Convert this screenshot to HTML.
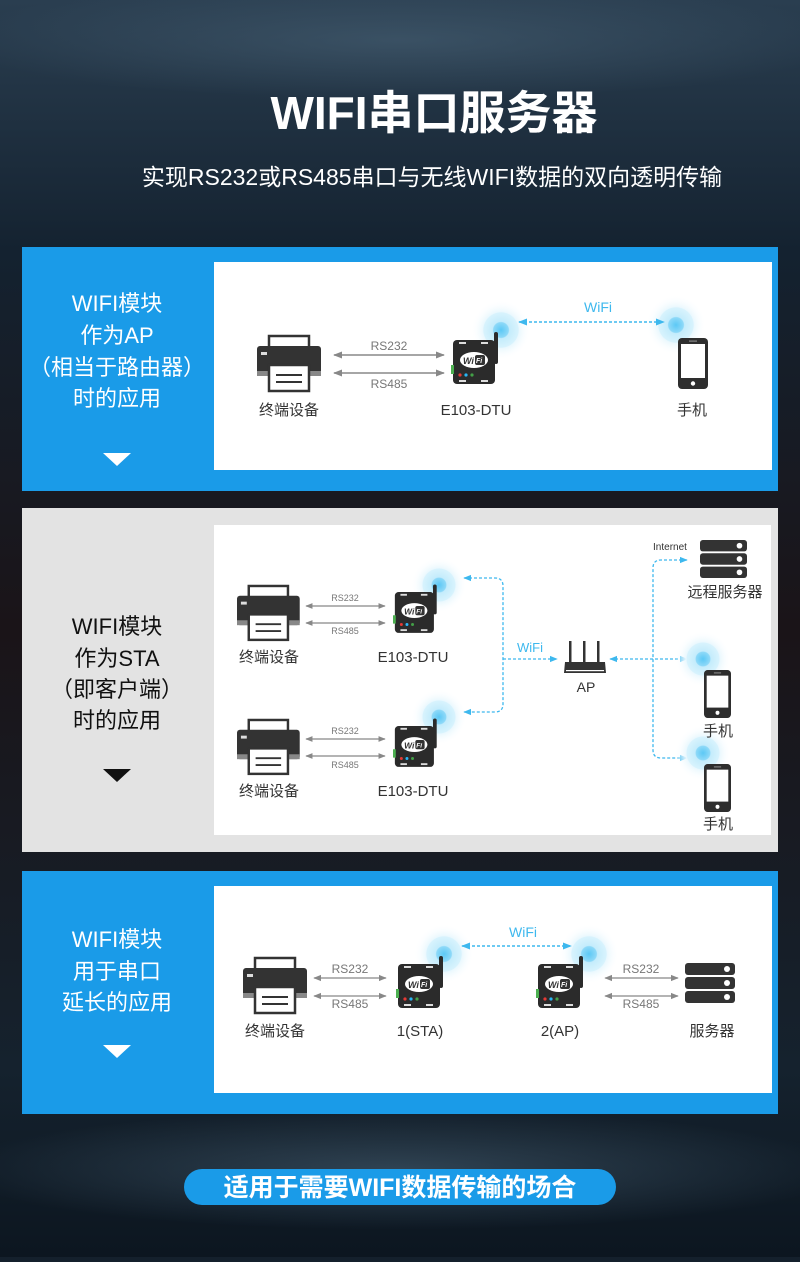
<!DOCTYPE html>
<html><head><meta charset="utf-8"><style>
html,body{margin:0;padding:0;}
body{width:800px;height:1257px;overflow:hidden;background:#14202c;font-family:"Liberation Sans","Noto Sans CJK SC",sans-serif;}
</style></head><body>
<svg width="800" height="1257" viewBox="0 0 800 1257" xmlns="http://www.w3.org/2000/svg" font-family="Liberation Sans, Noto Sans CJK SC, sans-serif">
<defs>
<linearGradient id="bg" x1="0" y1="0" x2="0" y2="1">
<stop offset="0" stop-color="#2a3e50"/><stop offset="0.2" stop-color="#142230"/><stop offset="0.5" stop-color="#1a1418"/><stop offset="0.85" stop-color="#15222e"/><stop offset="1" stop-color="#0c1620"/>
</linearGradient>
<radialGradient id="haze"><stop offset="0" stop-color="#4a6478" stop-opacity="0.55"/><stop offset="1" stop-color="#4a6478" stop-opacity="0"/></radialGradient>
<radialGradient id="glow"><stop offset="0" stop-color="#5cc8f5"/><stop offset="0.25" stop-color="#8ed9f8"/><stop offset="0.28" stop-color="#c4ecfc"/><stop offset="0.58" stop-color="#d8f3fd"/><stop offset="0.6" stop-color="#eaf8fe"/><stop offset="1" stop-color="#ffffff" stop-opacity="0"/></radialGradient>
<marker id="ag" viewBox="0 0 10 10" refX="9" refY="5" markerWidth="6" markerHeight="6" orient="auto-start-reverse"><path d="M0,1 L10,5 L0,9z" fill="#888"/></marker>
<marker id="ab" viewBox="0 0 10 10" refX="9" refY="5" markerWidth="6" markerHeight="6" orient="auto-start-reverse"><path d="M0,1 L10,5 L0,9z" fill="#3db8ee"/></marker>
<g id="printer">
<rect x="12" y="1" width="40" height="13" fill="#fff" stroke="#333" stroke-width="2.5"/>
<rect x="0" y="11" width="64" height="30" rx="3" fill="#333"/>
<rect x="4" y="17" width="6" height="3" fill="#ddd"/>
<rect x="0" y="36" width="64" height="5" fill="#888"/>
<rect x="12" y="30" width="40" height="26" fill="#fff" stroke="#333" stroke-width="2.5"/>
<line x1="19" y1="40" x2="45" y2="40" stroke="#333" stroke-width="2"/>
<line x1="19" y1="47" x2="45" y2="47" stroke="#333" stroke-width="2"/>
</g>
<g id="dtu">
<rect x="43" y="-8" width="4" height="32" rx="2" fill="#2b2b2b"/>
<rect x="2" y="0" width="42" height="44" rx="4" fill="#2b2b2b"/>
<rect x="8" y="2" width="7" height="2" fill="#ddd"/><rect x="30" y="2" width="7" height="2" fill="#ddd"/>
<rect x="8" y="40" width="7" height="2" fill="#ddd"/><rect x="30" y="40" width="7" height="2" fill="#ddd"/>
<rect x="0" y="25" width="3" height="9" fill="#4caf50"/>
<ellipse cx="23" cy="20" rx="14" ry="8" fill="#fff"/>
<text x="12" y="24" font-size="9" font-weight="bold" font-style="italic" fill="#333">Wi</text>
<rect x="24" y="15" width="10" height="10" rx="2" fill="#333"/>
<text x="25" y="23" font-size="7" font-weight="bold" font-style="italic" fill="#fff">Fi</text>
<circle cx="9" cy="35" r="1.6" fill="#e53935"/><circle cx="15" cy="35" r="1.6" fill="#29b6f6"/><circle cx="21" cy="35" r="1.6" fill="#43a047"/>
</g>
<g id="phone">
<rect x="0" y="0" width="30" height="51" rx="4" fill="#2e2e2e"/>
<rect x="3" y="6" width="24" height="34" fill="#fff"/>
<circle cx="15" cy="45.5" r="2.2" fill="#fff"/>
<rect x="11" y="2.5" width="8" height="1.2" fill="#888"/>
</g>
<g id="server">
<rect x="0" y="0" width="50" height="12" rx="3" fill="#333"/><circle cx="42" cy="6" r="3" fill="#fff"/>
<rect x="0" y="14" width="50" height="12" rx="3" fill="#333"/><circle cx="42" cy="20" r="3" fill="#fff"/>
<rect x="0" y="28" width="50" height="12" rx="3" fill="#333"/><circle cx="42" cy="34" r="3" fill="#fff"/>
</g>
</defs>
<rect width="800" height="1257" fill="url(#bg)"/>
<ellipse cx="400" cy="40" rx="450" ry="60" fill="url(#haze)"/>
<ellipse cx="400" cy="1170" rx="450" ry="60" fill="url(#haze)"/>

<text x="434" y="129" text-anchor="middle" font-size="46" font-weight="bold" fill="#fff">WIFI串口服务器</text>
<text x="432" y="185" text-anchor="middle" font-size="23" fill="#fff">实现RS232或RS485串口与无线WIFI数据的双向透明传输</text>

<!-- Panel 1 -->
<rect x="22" y="247" width="756" height="244" fill="#1a9be8"/>
<rect x="214" y="262" width="558" height="208" fill="#fff"/>
<g font-size="22" fill="#fff" text-anchor="middle">
<text x="117" y="311">WIFI模块</text><text x="117" y="343">作为AP</text><text x="117" y="375">（相当于路由器）</text><text x="117" y="406">时的应用</text></g>
<path d="M103,453 L131,453 L117,466z" fill="#fff"/>
<use href="#printer" transform="translate(257,335)"/>
<line x1="334" y1="355" x2="444" y2="355" stroke="#888" stroke-width="1.5" marker-start="url(#ag)" marker-end="url(#ag)"/>
<line x1="334" y1="373" x2="444" y2="373" stroke="#888" stroke-width="1.5" marker-start="url(#ag)" marker-end="url(#ag)"/>
<text x="389" y="350" text-anchor="middle" font-size="12" fill="#777">RS232</text>
<text x="389" y="388" text-anchor="middle" font-size="12" fill="#777">RS485</text>
<circle cx="501" cy="330" r="30" fill="url(#glow)"/>
<use href="#dtu" transform="translate(451,340)"/>
<circle cx="676" cy="325" r="30" fill="url(#glow)"/>
<use href="#phone" transform="translate(678,338)"/>
<line x1="519" y1="322" x2="664" y2="322" stroke="#3db8ee" stroke-width="1.5" stroke-dasharray="3,2" marker-start="url(#ab)" marker-end="url(#ab)"/>
<text x="598" y="312" text-anchor="middle" font-size="14" fill="#3db8ee">WiFi</text>
<g font-size="15" fill="#333" text-anchor="middle"><text x="289" y="415">终端设备</text><text x="476" y="415">E103-DTU</text><text x="692" y="415">手机</text></g>

<!-- Panel 2 -->
<rect x="22" y="508" width="756" height="344" fill="#e3e3e3"/>
<rect x="214" y="525" width="557" height="310" fill="#fff"/>
<g font-size="22" fill="#111" text-anchor="middle">
<text x="117" y="634">WIFI模块</text><text x="117" y="666">作为STA</text><text x="117" y="697">（即客户端）</text><text x="117" y="728">时的应用</text></g>
<path d="M103,769 L131,769 L117,782z" fill="#111"/>
<g transform="translate(237,585) scale(0.98)"><use href="#printer"/></g>
<g transform="translate(237,719) scale(0.98)"><use href="#printer"/></g>
<g stroke="#888" stroke-width="1.2"><line x1="306" y1="606" x2="385" y2="606" marker-start="url(#ag)" marker-end="url(#ag)"/><line x1="306" y1="623" x2="385" y2="623" marker-start="url(#ag)" marker-end="url(#ag)"/><line x1="306" y1="739" x2="385" y2="739" marker-start="url(#ag)" marker-end="url(#ag)"/><line x1="306" y1="756" x2="385" y2="756" marker-start="url(#ag)" marker-end="url(#ag)"/></g>
<g font-size="9" fill="#777" text-anchor="middle"><text x="345" y="601">RS232</text><text x="345" y="634">RS485</text><text x="345" y="734">RS232</text><text x="345" y="768">RS485</text></g>
<circle cx="439" cy="585" r="28" fill="url(#glow)"/><circle cx="439" cy="717" r="28" fill="url(#glow)"/>
<g transform="translate(393,592) scale(0.93)"><use href="#dtu"/></g>
<g transform="translate(393,726) scale(0.93)"><use href="#dtu"/></g>
<g fill="none" stroke="#3db8ee" stroke-width="1.3" stroke-dasharray="3,2">
<path d="M464,578 L495,578 Q503,578 503,586 L503,704 Q503,712 495,712 L464,712" marker-start="url(#ab)" marker-end="url(#ab)"/>
<line x1="503" y1="659" x2="557" y2="659" marker-end="url(#ab)"/>
<line x1="610" y1="659" x2="687" y2="659" marker-start="url(#ab)" marker-end="url(#ab)"/>
<path d="M687,560 L661,560 Q653,560 653,568 L653,750 Q653,758 661,758 L687,758" marker-start="url(#ab)" marker-end="url(#ab)"/>
</g>
<text x="530" y="652" text-anchor="middle" font-size="13" fill="#3db8ee">WiFi</text>
<g fill="#333"><rect x="569" y="641" width="2.5" height="22"/><rect x="583" y="641" width="2.5" height="22"/><rect x="597" y="641" width="2.5" height="22"/>
<path d="M565,662 L605,662 L606,673 L564,673z"/></g>
<rect x="566" y="670" width="38" height="1.2" fill="#fff"/>
<text x="586" y="692" text-anchor="middle" font-size="14" fill="#333">AP</text>
<text x="670" y="550" text-anchor="middle" font-size="10" fill="#333">Internet</text>
<g transform="translate(700,540) scale(0.94,0.95)"><use href="#server"/></g>
<text x="725" y="597" text-anchor="middle" font-size="15" fill="#333">远程服务器</text>
<circle cx="703" cy="659" r="28" fill="url(#glow)"/><circle cx="703" cy="753" r="28" fill="url(#glow)"/>
<g transform="translate(704,670) scale(0.9,0.94)"><use href="#phone"/></g>
<g transform="translate(704,764) scale(0.9,0.94)"><use href="#phone"/></g>
<g font-size="15" fill="#333" text-anchor="middle"><text x="269" y="662">终端设备</text><text x="413" y="662">E103-DTU</text><text x="269" y="796">终端设备</text><text x="413" y="796">E103-DTU</text><text x="718" y="736">手机</text><text x="718" y="829">手机</text></g>

<!-- Panel 3 -->
<rect x="22" y="871" width="756" height="243" fill="#1a9be8"/>
<rect x="214" y="886" width="558" height="207" fill="#fff"/>
<g font-size="22" fill="#fff" text-anchor="middle"><text x="117" y="947">WIFI模块</text><text x="117" y="979">用于串口</text><text x="117" y="1010">延长的应用</text></g>
<path d="M103,1045 L131,1045 L117,1058z" fill="#fff"/>
<use href="#printer" transform="translate(243,957)"/>
<g stroke="#888" stroke-width="1.3"><line x1="314" y1="978" x2="386" y2="978" marker-start="url(#ag)" marker-end="url(#ag)"/><line x1="314" y1="996" x2="386" y2="996" marker-start="url(#ag)" marker-end="url(#ag)"/><line x1="605" y1="978" x2="678" y2="978" marker-start="url(#ag)" marker-end="url(#ag)"/><line x1="605" y1="996" x2="678" y2="996" marker-start="url(#ag)" marker-end="url(#ag)"/></g>
<g font-size="12" fill="#777" text-anchor="middle"><text x="350" y="973">RS232</text><text x="350" y="1008">RS485</text><text x="641" y="973">RS232</text><text x="641" y="1008">RS485</text></g>
<circle cx="444" cy="954" r="30" fill="url(#glow)"/><circle cx="589" cy="954" r="30" fill="url(#glow)"/>
<use href="#dtu" transform="translate(396,964)"/>
<use href="#dtu" transform="translate(536,964)"/>
<line x1="462" y1="946" x2="571" y2="946" stroke="#3db8ee" stroke-width="1.5" stroke-dasharray="3,2" marker-start="url(#ab)" marker-end="url(#ab)"/>
<text x="523" y="937" text-anchor="middle" font-size="14" fill="#3db8ee">WiFi</text>
<g transform="translate(685,963)"><use href="#server"/></g>
<g font-size="15" fill="#333" text-anchor="middle"><text x="275" y="1036">终端设备</text><text x="420" y="1036">1(STA)</text><text x="560" y="1036">2(AP)</text><text x="712" y="1036">服务器</text></g>

<!-- bottom pill -->
<rect x="184" y="1169" width="432" height="36" rx="18" fill="#1a9be8"/>
<text x="400" y="1196" text-anchor="middle" font-size="25" font-weight="bold" fill="#fff">适用于需要WIFI数据传输的场合</text>
</svg>
</body></html>
